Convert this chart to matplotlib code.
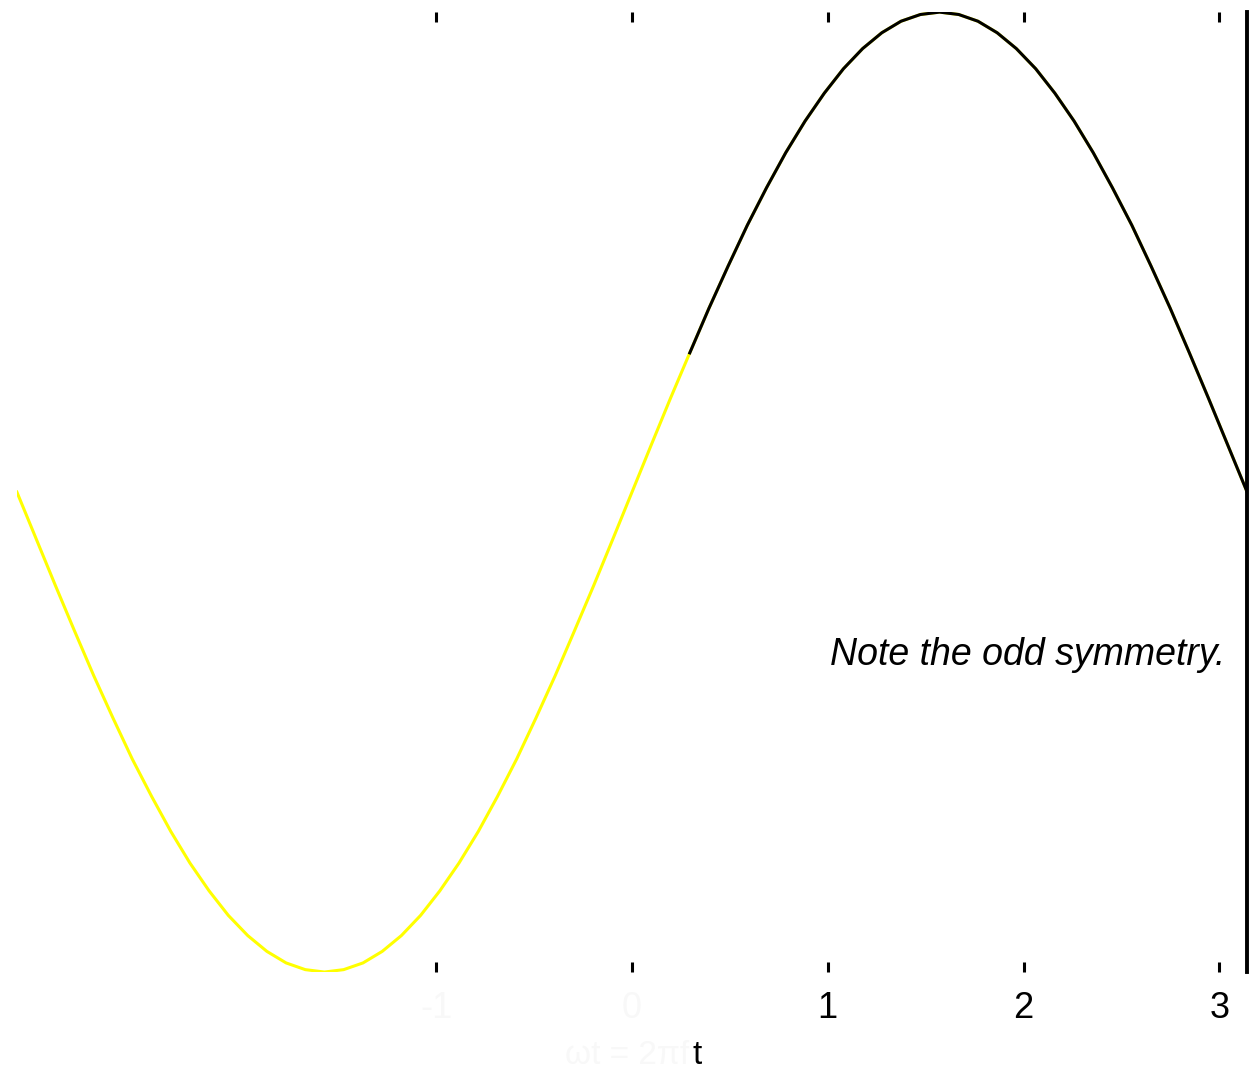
import matplotlib
matplotlib.use('Agg')
import matplotlib.pyplot as plt
import numpy as np

plt.rcParams['font.family'] = ['Liberation Sans', 'DejaVu Sans']

# full period, yellow
t_full = [-3.142, -3.043, -2.945, -2.847, -2.749, -2.651, -2.553, -2.454, -2.356,
          -2.258, -2.160, -2.062, -1.963, -1.865, -1.767, -1.669, -1.571, -1.473,
          -1.374, -1.276, -1.178, -1.080, -0.982, -0.884, -0.785, -0.687, -0.589,
          -0.491, -0.393, -0.295, -0.196, -0.098,
          0.000, 0.098, 0.196, 0.295, 0.393, 0.491, 0.589, 0.687, 0.785, 0.884,
          0.982, 1.080, 1.178, 1.276, 1.374, 1.473, 1.571, 1.669, 1.767, 1.865,
          1.963, 2.062, 2.160, 2.258, 2.356, 2.454, 2.553, 2.651, 2.749, 2.847,
          2.945, 3.043, 3.142]
y_full = [0.000, -0.098, -0.195, -0.290, -0.383, -0.471, -0.556, -0.634, -0.707,
          -0.773, -0.831, -0.882, -0.924, -0.957, -0.981, -0.995, -1.000, -0.995,
          -0.981, -0.957, -0.924, -0.882, -0.831, -0.773, -0.707, -0.634, -0.556,
          -0.471, -0.383, -0.290, -0.195, -0.098,
          0.000, 0.098, 0.195, 0.290, 0.383, 0.471, 0.556, 0.634, 0.707, 0.773,
          0.831, 0.882, 0.924, 0.957, 0.981, 0.995, 1.000, 0.995, 0.981, 0.957,
          0.924, 0.882, 0.831, 0.773, 0.707, 0.634, 0.556, 0.471, 0.383, 0.290,
          0.195, 0.098, 0.000]

# overlaid part, black
t_part = [0.295, 0.393, 0.491, 0.589, 0.687, 0.785, 0.884, 0.982, 1.080, 1.178,
          1.276, 1.374, 1.473, 1.571, 1.669, 1.767, 1.865, 1.963, 2.062, 2.160,
          2.258, 2.356, 2.454, 2.553, 2.651, 2.749, 2.847, 2.945, 3.043, 3.142]
y_part = [0.290, 0.383, 0.471, 0.556, 0.634, 0.707, 0.773, 0.831, 0.882, 0.924,
          0.957, 0.981, 0.995, 1.000, 0.995, 0.981, 0.957, 0.924, 0.882, 0.831,
          0.773, 0.707, 0.634, 0.556, 0.471, 0.383, 0.290, 0.195, 0.098, 0.000]

tick_pos = [-1, 0, 1, 2, 3]
tick_lab = ['-1', '0', '1', '2', '3']
tick_col = ['#f8f8f8', '#f8f8f8', 'k', 'k', 'k']

fig = plt.figure(figsize=(12.58, 10.81), dpi=100)
ax = fig.add_axes([0.0135, 0.1008, 0.9778, 0.888])

ax.plot(t_full, y_full, color='#ffff00', lw=2.2)
ax.plot(t_part, y_part, color='k', lw=2.2)

ax.set_xlim(-np.pi, np.pi)
ax.set_ylim(-1, 1)

for s in ['left', 'top', 'bottom']:
    ax.spines[s].set_visible(False)
ax.spines['right'].set_color('k')
ax.spines['right'].set_linewidth(2.8)

ax.set_yticks([])
ax.set_xticks(tick_pos)
ax.set_xticklabels(tick_lab, fontsize=26)
ax.tick_params(axis='x', direction='in', length=7, width=2.2, top=True, pad=14)
for tl, c in zip(ax.get_xticklabels(), tick_col):
    tl.set_color(c)
for tk, c in zip(ax.xaxis.get_major_ticks(), tick_col):
    tk.tick1line.set_color(c)
    tk.tick2line.set_color(c)

ax.text(1.01, -0.34, 'Note the odd symmetry.', fontsize=27, style='italic',
        ha='left', va='center')

fig.text(0.548, 0.024, 'ωt = 2πf', fontsize=24, color='#f8f8f8', ha='right', va='center')
fig.text(0.554, 0.024, 't', fontsize=24, color='k', ha='center', va='center')

plt.savefig('out.png', dpi=100)
